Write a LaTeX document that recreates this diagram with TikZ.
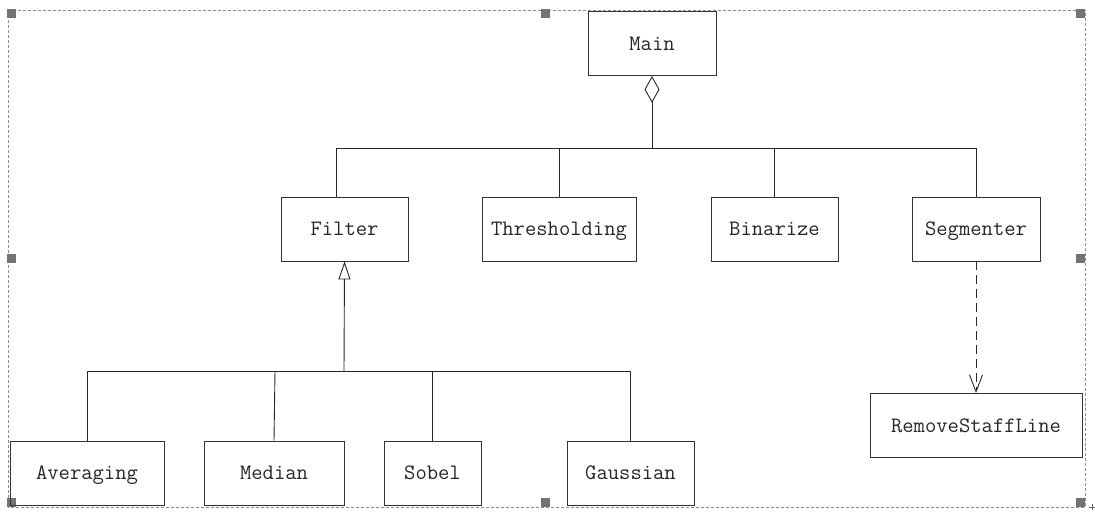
\documentclass[tikz,border=0pt]{standalone}
\usetikzlibrary{arrows.meta}
\tikzset{%
  classbox/.style = {shape=rectangle, draw=black!80, line width=0.9pt,%
                     font=\ttfamily\fontsize{22}{24}\selectfont,%
                     minimum height=64pt, inner sep=0pt,%
                     text height=14pt, text depth=1pt},%
  aggr/.style     = {{Diamond[open,length=27pt,width=15pt]}-},%
  inherit/.style  = {-{Triangle[open,length=18pt,width=12pt]}},%
  dep/.style      = {dash pattern=on 9pt off 5pt,%
                     -{Straight Barb[length=17pt,width=13pt]}},%
  handle/.style   = {fill=black!55},%
  selframe/.style = {draw=black!45, line width=0.6pt, dash pattern=on 3pt off 2pt}%
}

\begin{document}
\begin{tikzpicture}[x=1pt,y=-1pt,line width=0.9pt,color=black!85]
		\useasboundingbox (0,0) rectangle (1095,514);
		% selection frame
		\draw[selframe] (8,10) rectangle (1085,507);
		\foreach \x/\y in {11.5/13.5, 545/13.5, 1080/13.5, 11.5/258, 1080/258,
			11.5/502, 545/502, 1080/502}
			\fill[handle] (\x-4.5,\y-4.5) rectangle ++(9,9);
		\draw[black!60,line width=0.5pt] (1089,507) -- (1095,507) (1092,504) -- (1092,510);
		% classes
		\node[classbox, minimum width=128pt] (main) at (652,43.5) {Main};
		\node[classbox, minimum width=127pt] (filter) at (344.5,229) {Filter};
		\node[classbox, minimum width=154pt] (thr) at (559,229) {Thresholding};
		\node[classbox, minimum width=127pt] (bin) at (774.5,229) {Binarize};
		\node[classbox, minimum width=128pt] (seg) at (976,229) {Segmenter};
		\node[classbox, minimum width=154pt] (avg) at (87,473) {Averaging};
		\node[classbox, minimum width=140pt] (med) at (274,473) {Median};
		\node[classbox, minimum width=97pt] (sob) at (432.5,473) {Sobel};
		\node[classbox, minimum width=127pt] (gau) at (630.5,473) {Gaussian};
		\node[classbox, minimum width=212pt] (rsl) at (976,425.5) {RemoveStaffLine};
		\coordinate (busA) at (652,149);
		\coordinate (busB) at (344,371);
		% aggregation
		\draw[aggr] (main.south) -- (busA);
		\draw ([xshift=-8.5pt]filter.north) -- ++(0,-48) -| (seg.north);
		\draw (thr.north) -- (thr.north |- busA);
		\draw (bin.north) -- (bin.north |- busA);
		% inheritance
		\draw[inherit] (busB) -- (filter.south);
		\draw (avg.north) |- (gau.north |- busB) -- (gau.north);
		\draw (med.north) -- ([xshift=1pt]med.north |- busB);
		\draw (sob.north) -- (sob.north |- busB);
		% dependency
		\draw[dep] (seg.south) -- (rsl.north);
\end{tikzpicture}
\end{document}
